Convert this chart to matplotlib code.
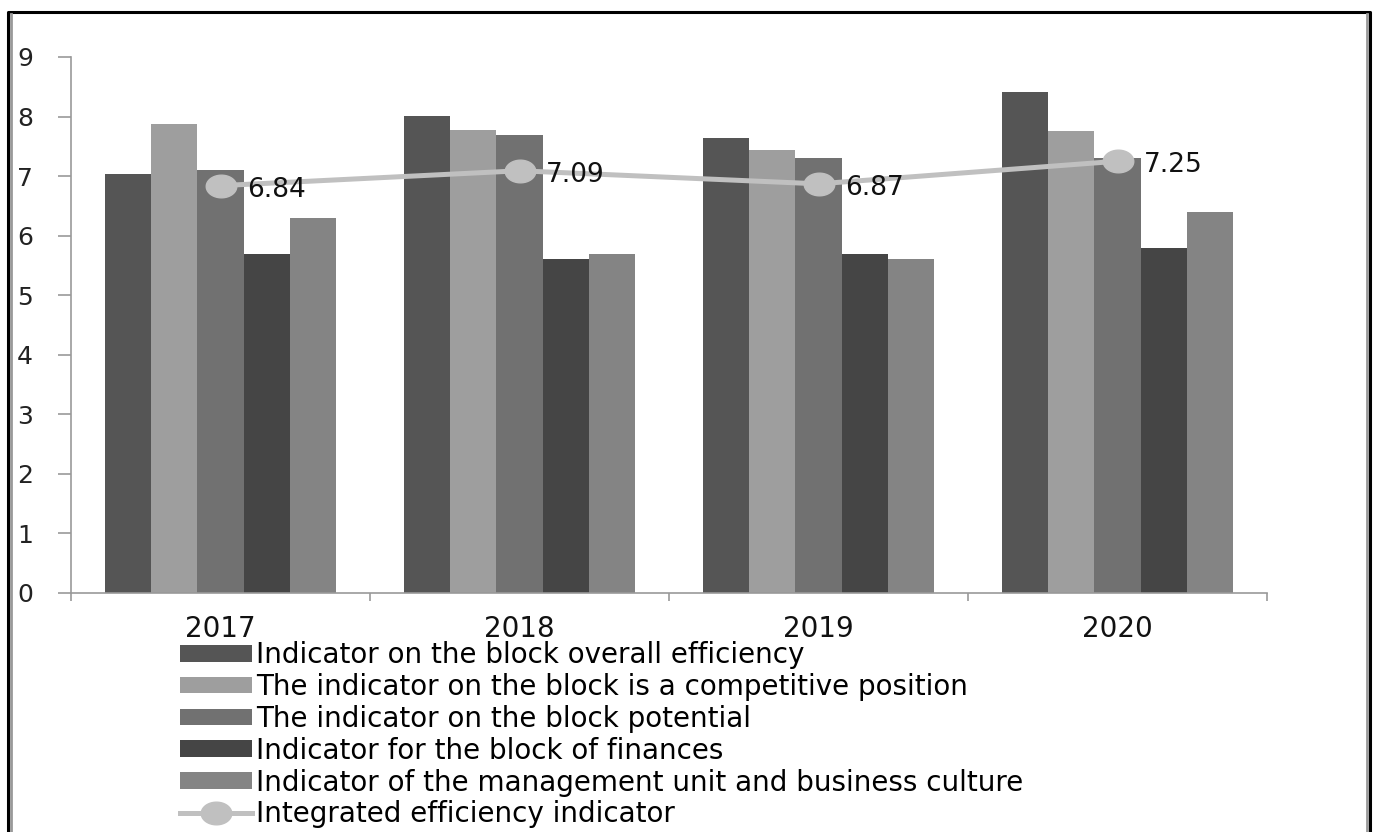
import matplotlib
matplotlib.use("Agg")
import matplotlib.pyplot as plt
import numpy as np
from matplotlib.lines import Line2D
from matplotlib.path import Path

years = ["2017", "2018", "2019", "2020"]
series_names = [
    "Indicator on the block overall efficiency",
    "The indicator on the block is a competitive position",
    "The indicator on the block potential",
    "Indicator for the block of finances",
    "Indicator of the management unit and business culture",
]
overall_eff = [7.04, 8.01, 7.64, 8.42]
competitive = [7.88, 7.78, 7.44, 7.76]
potential = [7.10, 7.69, 7.30, 7.30]
finances = [5.70, 5.60, 5.70, 5.80]
management = [6.30, 5.70, 5.60, 6.40]
integrated_name = "Integrated efficiency indicator"
integrated = [6.84, 7.09, 6.87, 7.25]
y_ticks = list(range(0, 10))

bar_colors = ["#555555", "#9e9e9e", "#717171", "#454545", "#848484"]
line_color = "#c0c0c0"
FONT = "DejaVu Sans"

W, H = 1377, 832
fig = plt.figure(figsize=(W / 100, H / 100), dpi=100)
ax = fig.add_axes([71 / W, 1 - 593 / H, (1267 - 71) / W, (593 - 57) / H])

x = np.arange(len(years))
series = [overall_eff, competitive, potential, finances, management]
bw = 0.154
handles = []
for i, (vals, name) in enumerate(zip(series, series_names)):
    b = ax.bar(x + (i - 2) * bw, vals, width=bw, color=bar_colors[i], label=name,
               edgecolor="none", zorder=2)
    handles.append(b)

# slightly wide elliptical marker
t = np.linspace(0, 2 * np.pi, 60)
ell = Path(np.column_stack([1.35 * np.cos(t), np.sin(t)]), closed=True)

ln, = ax.plot(x, integrated, color=line_color, lw=3.6, marker=ell, markersize=22,
              markerfacecolor=line_color, markeredgecolor=line_color, zorder=3,
              label=integrated_name)
for xi, v in zip(x, integrated):
    ax.annotate(f"{v:.2f}", (xi, v), xytext=(19, -3), textcoords="offset points",
                ha="left", va="center", fontsize=19, family=FONT, color="#111111")

ax.set_xlim(-0.5, len(years) - 0.5)
ax.set_ylim(0, 9)
ax.set_yticks(y_ticks)
ax.set_yticklabels([str(t) for t in y_ticks], fontsize=18, family=FONT, color="#222222")
for lab in ax.get_yticklabels():
    lab.set_horizontalalignment("left")
ax.tick_params(axis="y", length=9.4, width=1.2, color="#999999", pad=29.5)

ax.set_xticks(x)
ax.set_xticklabels(years, fontsize=20, family=FONT, color="#111111")
ax.tick_params(axis="x", length=0, pad=16)
ax.set_xticks(np.arange(-0.5, len(years), 1.0), minor=True)
ax.tick_params(axis="x", which="minor", length=6, width=1.2, color="#999999")

for s in ["top", "right"]:
    ax.spines[s].set_visible(False)
for s in ["left", "bottom"]:
    ax.spines[s].set_color("#999999")
    ax.spines[s].set_linewidth(1.2)

leg = fig.legend(handles + [ln], series_names + [integrated_name],
                 loc="upper left", bbox_to_anchor=(180 / W, 1 - 641 / H),
                 frameon=False, prop={"family": FONT, "size": 20},
                 handlelength=2.6, handleheight=0.55, handletextpad=0.15,
                 labelspacing=0.14, borderpad=0, borderaxespad=0)

# outer frame (left, top, right)
fig.add_artist(Line2D([8 / W, 8 / W, 1370 / W, 1370 / W], [0, 1 - 12 / H, 1 - 12 / H, 0],
                      transform=fig.transFigure, color="black", lw=2.2))
fig.add_artist(Line2D([11 / W, 11 / W], [0, 1 - 14 / H],
                      transform=fig.transFigure, color="#999999", lw=2))
fig.add_artist(Line2D([1367 / W, 1367 / W], [0, 1 - 14 / H],
                      transform=fig.transFigure, color="#999999", lw=2))

fig.savefig("out.png", dpi=100)
